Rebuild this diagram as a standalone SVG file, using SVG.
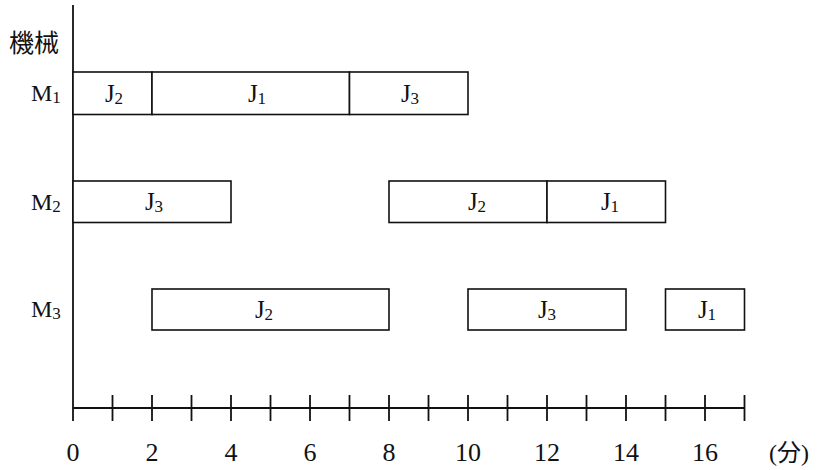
<svg xmlns="http://www.w3.org/2000/svg" width="820" height="470" viewBox="0 0 820 470">
<style>
.bar{fill:#fff;stroke:#111;stroke-width:1.6}
.ax{stroke:#111;stroke-width:1.8;fill:none}
.tk{stroke:#111;stroke-width:1.8}
.t{font-family:"Liberation Serif","Noto Sans CJK JP",serif;font-size:24px;fill:#111}
.cjk{font-family:"Noto Sans CJK JP",sans-serif;font-size:25px;fill:#111}
.j{font-family:"Liberation Serif","Noto Sans CJK JP",serif;font-size:25px;fill:#111;text-anchor:middle}
.s{font-size:17px}
.n{font-family:"Liberation Serif",serif;font-size:26px;fill:#111;text-anchor:middle}
</style>
<rect width="820" height="470" fill="#fff"/>
<g id="axes">
<line class="ax" x1="73" y1="5" x2="73" y2="421"/>
<line class="ax" x1="73" y1="408" x2="745" y2="408"/>
<g class="tk">
<line x1="112.5" y1="395" x2="112.5" y2="421"/>
<line x1="152" y1="395" x2="152" y2="421"/>
<line x1="191.5" y1="395" x2="191.5" y2="421"/>
<line x1="231" y1="395" x2="231" y2="421"/>
<line x1="270.5" y1="395" x2="270.5" y2="421"/>
<line x1="310" y1="395" x2="310" y2="421"/>
<line x1="349.5" y1="395" x2="349.5" y2="421"/>
<line x1="389" y1="395" x2="389" y2="421"/>
<line x1="428.5" y1="395" x2="428.5" y2="421"/>
<line x1="468" y1="395" x2="468" y2="421"/>
<line x1="507.5" y1="395" x2="507.5" y2="421"/>
<line x1="547" y1="395" x2="547" y2="421"/>
<line x1="586.5" y1="395" x2="586.5" y2="421"/>
<line x1="626" y1="395" x2="626" y2="421"/>
<line x1="665.5" y1="395" x2="665.5" y2="421"/>
<line x1="705" y1="395" x2="705" y2="421"/>
<line x1="744.5" y1="395" x2="744.5" y2="421"/>
</g>
<text class="n" x="73" y="461">0</text>
<text class="n" x="152" y="461">2</text>
<text class="n" x="231" y="461">4</text>
<text class="n" x="310" y="461">6</text>
<text class="n" x="389" y="461">8</text>
<text class="n" x="468" y="461">10</text>
<text class="n" x="547" y="461">12</text>
<text class="n" x="626" y="461">14</text>
<text class="n" x="705" y="461">16</text>
<text class="t" x="769" y="461" font-size="26">(<tspan font-family="'Noto Sans CJK JP',sans-serif" font-size="24">分</tspan>)</text>
<text class="cjk" x="9" y="52">機械</text>
<text class="t" x="31" y="101">M<tspan class="s" dy="2">1</tspan></text>
<text class="t" x="31" y="210">M<tspan class="s" dy="2">2</tspan></text>
<text class="t" x="31" y="317">M<tspan class="s" dy="2">3</tspan></text>
</g>
<g id="M1">
<rect class="bar" x="73" y="72" width="79" height="42.5"/>
<rect class="bar" x="152" y="72" width="197.5" height="42.5"/>
<rect class="bar" x="349.5" y="72" width="118.5" height="42.5"/>
<text class="j" x="114" y="102">J<tspan class="s" dy="2">2</tspan></text>
<text class="j" x="257" y="102">J<tspan class="s" dy="2">1</tspan></text>
<text class="j" x="410" y="102">J<tspan class="s" dy="2">3</tspan></text>
</g>
<g id="M2">
<rect class="bar" x="73" y="181" width="158" height="41.5"/>
<rect class="bar" x="389" y="181" width="158" height="41.5"/>
<rect class="bar" x="547" y="181" width="118.5" height="41.5"/>
<text class="j" x="154" y="210">J<tspan class="s" dy="2">3</tspan></text>
<text class="j" x="477" y="210">J<tspan class="s" dy="2">2</tspan></text>
<text class="j" x="610" y="210">J<tspan class="s" dy="2">1</tspan></text>
</g>
<g id="M3">
<rect class="bar" x="152" y="289" width="237" height="41"/>
<rect class="bar" x="468" y="289" width="158" height="41"/>
<rect class="bar" x="665.5" y="289" width="79" height="41"/>
<text class="j" x="264" y="318">J<tspan class="s" dy="2">2</tspan></text>
<text class="j" x="547" y="318">J<tspan class="s" dy="2">3</tspan></text>
<text class="j" x="707" y="318">J<tspan class="s" dy="2">1</tspan></text>
</g>
</svg>
